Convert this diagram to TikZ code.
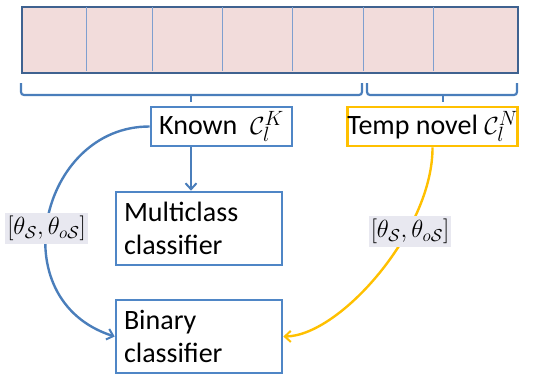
\documentclass[tikz,border=0pt]{standalone}
\usepackage{fontspec}
\setmainfont{Carlito}
\usetikzlibrary{arrows.meta}
\definecolor{barfill}{HTML}{F2DCDB}
\definecolor{barline}{HTML}{3F6290}
\definecolor{cellline}{HTML}{7F9FCF}
\definecolor{boxblue}{HTML}{4F86C6}
\definecolor{curveblue}{HTML}{4A7EBB}
\definecolor{gold}{HTML}{FFC000}
\definecolor{labelbg}{HTML}{E8E8F0}
\tikzset{
  box/.style={draw=boxblue, line width=2.6bp, fill=white, inner sep=0pt, font=\fontsize{28bp}{33bp}\selectfont},
  classbox/.style={box, minimum width=166bp, text width=150bp, align=left, inner xsep=8bp},
  brace/.style={draw=curveblue, line width=2.2bp, rounded corners=3bp},
  conn/.style={line width=2.4bp, -{Straight Barb[length=6bp,width=11bp,line width=2bp]}},
  lbl/.style={fill=labelbg, inner xsep=2bp, inner ysep=3bp, font=\fontsize{24bp}{26bp}\selectfont}
}
\begin{document}
\begin{tikzpicture}[x=1bp,y=-1bp]
\useasboundingbox (0,0) rectangle (537,373);
% bar
\node[draw=barline, fill=barfill, line width=2.2bp, minimum width=496bp, minimum height=66bp, inner sep=0pt, anchor=north west] (bar) at (21,6) {};
\foreach \x in {86,152,222,292,363,433}
  \draw[cellline, line width=1bp] (\x,7.1) -- (\x,70.9);
% braces
\coordinate (b1l) at (21,83);
\coordinate (b1t) at (191,102);
\coordinate (b1r) at (362,83);
\coordinate (b2l) at (367,83);
\coordinate (b2t) at (443,102);
\coordinate (b2r) at (517,83);
\draw[brace] (b1l) |- (191,95) -| (b1r);
\draw[brace] (191,95) -- (b1t);
\draw[brace] (b2l) |- (443,95) -| (b2r);
\draw[brace] (443,95) -- (b2t);
% nodes
\node[box, minimum width=141bp, minimum height=39bp] (known) at (221.5,126.5) {Known\ \ $\mathcal{C}_l^K$};
\node[box, draw=gold, minimum width=169bp, minimum height=39bp] (novel) at (432.5,126.5) {Temp novel $\mathcal{C}_l^N$};
\node[classbox, minimum height=73bp] (multi) at (199,228.5) {Multiclass\\classifier};
\node[classbox, minimum height=73bp] (binary) at (199,336.5) {Binary\\classifier};
% connectors
\draw[conn, curveblue] (known.south -| b1t) -- (multi.north -| b1t);
\draw[conn, curveblue] (known.west) .. controls (40,126) and (0,300) .. (binary.west);
\draw[conn, gold] (novel.south) .. controls (433,230) and (340,336) .. (binary.east);
% labels
\node[lbl] (l1) at (46.5,228.5) {$[\theta_{\mathcal{S}},\theta_{o\mathcal{S}}]$};
\node[lbl] (l2) at (410,231.5) {$[\theta_{\mathcal{S}},\theta_{o\mathcal{S}}]$};
\end{tikzpicture}
\end{document}
